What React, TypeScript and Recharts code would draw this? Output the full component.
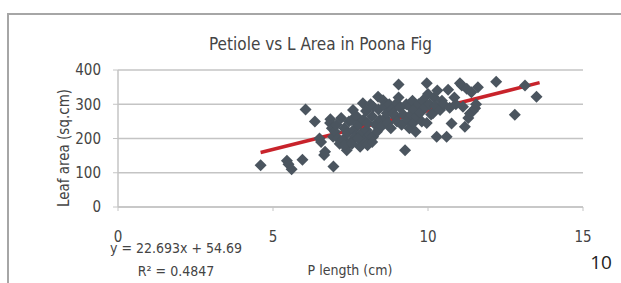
import React from 'react';
import { ScatterChart, Scatter, XAxis, YAxis, CartesianGrid, ReferenceLine } from 'recharts';

const petioleLength = [
  4.6, 5.45, 5.5, 5.6, 5.95, 6.05, 6.35, 6.5, 6.55, 6.65, 6.68, 6.95, 6.85, 6.84, 6.94, 6.9, 7.0,
  7.05, 7.1, 7.15, 7.2, 7.26, 7.3, 7.35, 7.38, 7.4, 7.45, 7.5, 7.54, 7.58, 7.6, 7.65, 7.7, 7.75, 7.81,
  7.85, 7.9, 7.92, 7.95, 8.0, 8.02, 8.05, 8.1, 8.15, 8.2, 8.23, 8.23, 8.3, 8.35, 8.39, 8.4, 8.45, 8.5,
  8.55, 8.6, 8.62, 8.67, 8.7, 8.75, 8.8, 8.85, 8.88, 8.94, 8.99, 9.05, 9.0, 9.05,
  7.3, 7.55, 7.75, 8.05, 8.2,
  9.1, 9.15, 9.2, 9.26, 9.3, 9.35, 9.4, 9.42, 9.45, 9.5, 9.52, 9.55, 9.6, 9.63, 9.7, 9.75, 9.8, 9.84,
  9.9, 9.96, 9.96, 10.0, 10.05, 10.1, 10.16, 10.2, 10.25, 10.28, 10.3, 10.39, 10.45, 10.5, 10.6, 10.65,
  10.7, 10.76, 10.85, 10.9, 11.03, 11.09, 11.13, 11.19, 11.25, 11.3, 11.35, 11.4, 11.45, 11.52, 11.61,
  11.55, 12.2, 12.8, 13.13, 13.5,
];
const leafArea = [
  122, 135, 125, 110, 138, 285, 250, 200, 190, 152, 161, 118, 256, 245, 205, 230, 220,
  240, 200, 185, 260, 196, 230, 175, 166, 215, 250, 190, 254, 283, 225, 205, 265, 240, 176,
  215, 303, 255, 195, 280, 225, 245, 210, 300, 265, 293, 205, 240, 220, 322, 285, 255, 235,
  312, 295, 260, 274, 245, 300, 230, 285, 274, 264, 303, 358, 250, 320,
  180, 185, 200, 180, 190,
  290, 240, 270, 166, 300, 255, 230, 293, 270, 310, 245, 285, 220, 264, 300, 275, 250, 312,
  290, 361, 245, 330, 300, 270, 274, 320, 295, 205, 340, 283, 310, 300, 205, 342,
  290, 244, 320, 300, 361, 355, 293, 234, 345, 260, 273, 335, 280, 288, 350,
  300, 366, 269, 355, 322,
];
const xTicks = [0, 5, 10, 15];
const yTicks = [0, 100, 200, 300, 400];
const trendX = [4.6, 13.6];
const trendY = [159, 363];

const points = petioleLength.map((x, i) => ({ x, y: leafArea[i] }));

const FONT = "'Liberation Sans Narrow', 'DejaVu Sans Condensed', 'Liberation Sans', sans-serif";

const Diamond = (props: any) => {
  const { cx, cy } = props;
  const r = 6;
  return (
    <polygon
      points={`${cx},${cy - r} ${cx + r},${cy} ${cx},${cy + r} ${cx - r},${cy}`}
      fill="#4b555f"
    />
  );
};

export default function App() {
  return (
    <div style={{ position: 'fixed', left: 0, top: 0, width: 621, height: 283, overflow: 'hidden', background: '#fff' }}>
      <div style={{ position: 'absolute', left: 7, top: 13, width: 700, height: 400, border: '2px solid #a6a6a6', boxSizing: 'border-box' }} />
      <div style={{ position: 'absolute', left: 0, top: 0 }}>
        <ScatterChart width={621} height={283} margin={{ top: 70, right: 38, bottom: 46, left: 0 }}>
          <CartesianGrid horizontal vertical={false} stroke="#c4c4c4" strokeWidth={1.5} />
          <XAxis
            type="number"
            dataKey="x"
            domain={[0, 15]}
            ticks={xTicks}
            height={30}
            tickSize={4}
            tickMargin={20}
            stroke="#c4c4c4"
            tick={{ fill: '#444', fontSize: 15, fontFamily: FONT }}
            axisLine={{ stroke: '#c4c4c4', strokeWidth: 1.5 }}
          />
          <YAxis
            type="number"
            dataKey="y"
            domain={[0, 400]}
            ticks={yTicks}
            width={118}
            tickSize={5}
            tickMargin={12}
            stroke="#c4c4c4"
            tick={{ fill: '#444', fontSize: 15, fontFamily: FONT }}
            axisLine={{ stroke: '#c4c4c4', strokeWidth: 1.5 }}
          />
          <Scatter data={points} shape={<Diamond />} isAnimationActive={false} />
          <ReferenceLine
            segment={[{ x: trendX[0], y: trendY[0] }, { x: trendX[1], y: trendY[1] }]}
            stroke="#c8232b"
            strokeWidth={3.5}
            ifOverflow="visible"
          />
        </ScatterChart>
      </div>
      <div style={{ position: 'absolute', left: 0, width: 621, top: 34, textAlign: 'center', fontFamily: FONT, fontSize: 17, color: '#444', paddingLeft: 10 }}>
        Petiole vs L Area in Poona Fig
      </div>
      <div style={{ position: 'absolute', left: 64, top: 148, transform: 'translate(-50%, -50%) rotate(-90deg)', whiteSpace: 'nowrap', fontFamily: FONT, fontSize: 15, color: '#444' }}>
        Leaf area (sq.cm)
      </div>
      <div style={{ position: 'absolute', left: 176, top: 248, transform: 'translate(-50%, -50%)', whiteSpace: 'nowrap', fontFamily: FONT, fontSize: 14, color: '#444' }}>
        y = 22.693x + 54.69
      </div>
      <div style={{ position: 'absolute', left: 176, top: 271, transform: 'translate(-50%, -50%)', whiteSpace: 'nowrap', fontFamily: FONT, fontSize: 14, color: '#444' }}>
        R² = 0.4847
      </div>
      <div style={{ position: 'absolute', left: 350, top: 270, transform: 'translate(-50%, -50%)', whiteSpace: 'nowrap', fontFamily: FONT, fontSize: 14, color: '#444' }}>
        P length (cm)
      </div>
      <div style={{ position: 'absolute', left: 601, top: 262, transform: 'translate(-50%, -50%)', whiteSpace: 'nowrap', fontFamily: "'Open Sans', sans-serif", fontSize: 19, color: '#222' }}>
        10
      </div>
    </div>
  );
}
